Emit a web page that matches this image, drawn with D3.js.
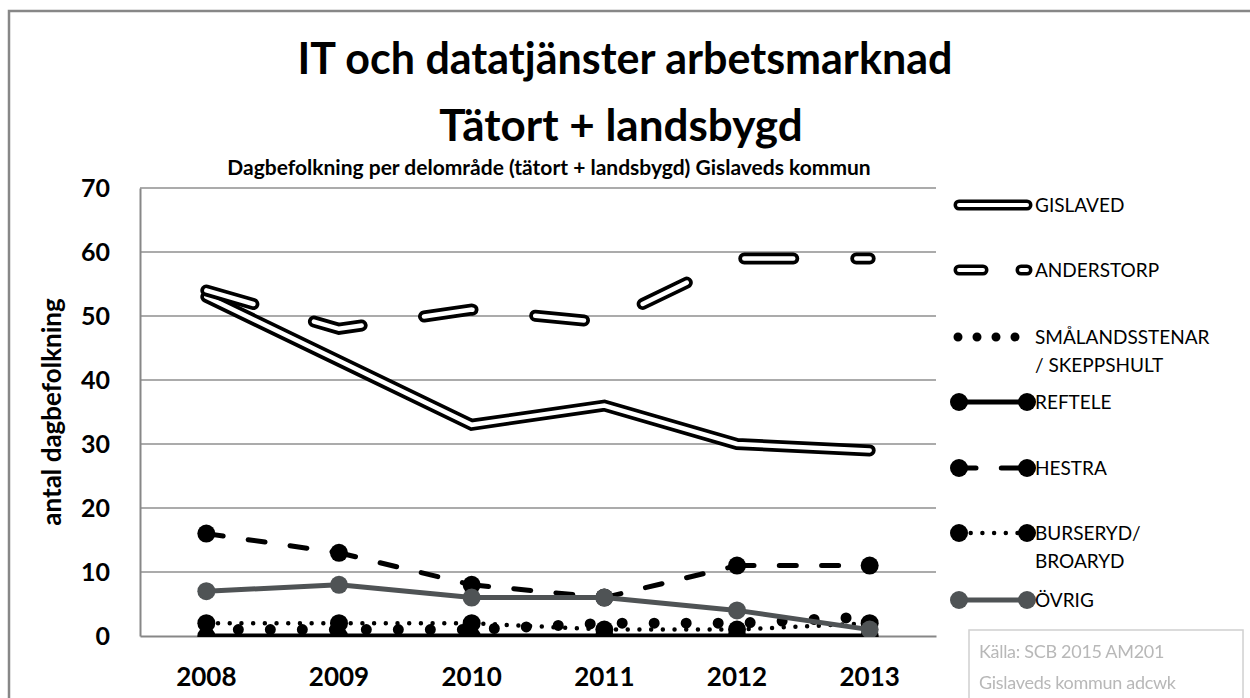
<!DOCTYPE html>
<html>
<head>
<meta charset="utf-8">
<script src="https://cdn.jsdelivr.net/npm/d3@7"></script>
<style>
  body { margin: 0; background: #fff; }
  svg { display: block; font-family: Lato, "Open Sans", sans-serif; }
</style>
</head>
<body>
<svg id="chart" width="1250" height="698"></svg>
<script>
// Categories and series values (people working in IT och datatjänster, by area)
const years = ["2008", "2009", "2010", "2011", "2012", "2013"];
const gislaved       = [53, 43, 33, 36, 30, 29];
const anderstorp     = [54, 48, 51, 49, 59, 59];
const smalandsstenar = [1, 1, 1, 2, 2, 3];
const reftele        = [0, 0, 0, 0, 0, 0];
const hestra         = [16, 13, 8, 6, 11, 11];
const burseryd       = [2, 2, 2, 1, 1, 2];
const ovrig          = [7, 8, 6, 6, 4, 1];
const yTicks = [0, 10, 20, 30, 40, 50, 60, 70];
const legendLabels = [
  ["GISLAVED"], ["ANDERSTORP"], ["SMÅLANDSSTENAR", "/ SKEPPSHULT"], ["REFTELE"],
  ["HESTRA"], ["BURSERYD/", "BROARYD"], ["ÖVRIG"]
];

const svg = d3.select("#chart");
const plot = { left: 140, right: 936, top: 188, bottom: 636 };

const x = d3.scaleBand().domain(years).range([plot.left, plot.right]);
const cx = d => x(d) + x.bandwidth() / 2;
const y = d3.scaleLinear().domain([0, 70]).range([plot.bottom, plot.top]);

// outer chart frame (left and top edges visible)
svg.append("rect").attr("x", 9).attr("y", 11).attr("width", 1300).attr("height", 800)
  .attr("fill", "none").attr("stroke", "#878787").attr("stroke-width", 2.5);

// titles
svg.append("text").attr("x", 625).attr("y", 74).attr("text-anchor", "middle")
  .attr("font-weight", 700).attr("font-size", 43).text("IT och datatjänster arbetsmarknad");
svg.append("text").attr("x", 621).attr("y", 141).attr("text-anchor", "middle")
  .attr("font-weight", 700).attr("font-size", 44).text("Tätort + landsbygd");
svg.append("text").attr("x", 549).attr("y", 175).attr("text-anchor", "middle")
  .attr("font-weight", 700).attr("font-size", 21)
  .text("Dagbefolkning per delområde (tätort + landsbygd) Gislaveds kommun");

// gridlines
svg.append("g").selectAll("line").data(yTicks.filter(t => t > 0)).join("line")
  .attr("x1", plot.left).attr("x2", plot.right)
  .attr("y1", d => y(d)).attr("y2", d => y(d))
  .attr("stroke", "#8f8f8f").attr("stroke-width", 1.6);

// y axis
const yAxis = svg.append("g").attr("transform", `translate(${plot.left},0)`)
  .call(d3.axisLeft(y).tickValues(yTicks).tickSize(0).tickPadding(30));
yAxis.select(".domain").attr("stroke", "#878787").attr("stroke-width", 2);
yAxis.selectAll("text").attr("font-family", "Lato, sans-serif").attr("font-size", 25)
  .attr("font-weight", 700).attr("fill", "#000");

// x axis
const xAxis = svg.append("g").attr("transform", `translate(0,${plot.bottom})`)
  .call(d3.axisBottom(x).tickSize(0).tickPadding(32));
xAxis.select(".domain").attr("stroke", "#878787").attr("stroke-width", 2);
xAxis.selectAll("text").attr("font-family", "Lato, sans-serif").attr("font-size", 26)
  .attr("font-weight", 700).attr("fill", "#000");

// y axis title
svg.append("text").attr("transform", `translate(61,${(plot.top + plot.bottom) / 2}) rotate(-90)`)
  .attr("text-anchor", "middle").attr("font-weight", 700).attr("font-size", 26)
  .text("antal dagbefolkning");

// series
svg.append("clipPath").attr("id", "plotClip").append("rect")
  .attr("x", 0).attr("y", 0).attr("width", 1250).attr("height", plot.bottom + 1);
const g = svg.append("g").attr("clip-path", "url(#plotClip)");

const line = d3.line().x((d, i) => cx(years[i])).y(d => y(d));
const GRAY = "#4f5355";

function compound(values, dash) {
  const p1 = g.append("path").datum(values).attr("d", line).attr("fill", "none")
    .attr("stroke", "#000").attr("stroke-width", 12)
    .attr("stroke-linecap", "round").attr("stroke-linejoin", "miter");
  const p2 = g.append("path").datum(values).attr("d", line).attr("fill", "none")
    .attr("stroke", "#fff").attr("stroke-width", 4.5)
    .attr("stroke-linecap", "round").attr("stroke-linejoin", "miter");
  if (dash) { p1.attr("stroke-dasharray", dash); p2.attr("stroke-dasharray", dash); }
}

// segment-wise path so the dash pattern restarts at every point
function segmented(values, color, width, dash) {
  const pairs = d3.range(values.length - 1).map(i => [i, i + 1]);
  g.append("g").selectAll("path").data(pairs).join("path")
    .attr("d", p => d3.line()(p.map(i => [cx(years[i]), y(values[i])])))
    .attr("fill", "none").attr("stroke", color).attr("stroke-width", width)
    .attr("stroke-linecap", "round").attr("stroke-dasharray", dash);
}

function markers(values, color) {
  g.append("g").selectAll("circle").data(values).join("circle")
    .attr("cx", (d, i) => cx(years[i])).attr("cy", d => y(d)).attr("r", 9)
    .attr("fill", color);
}

compound(gislaved, null);
compound(anderstorp, "49,63");

g.append("path").datum(smalandsstenar).attr("d", line).attr("fill", "none")
  .attr("stroke", "#000").attr("stroke-width", 11)
  .attr("stroke-linecap", "round").attr("stroke-dasharray", "0,32");

g.append("path").datum(reftele).attr("d", line).attr("fill", "none")
  .attr("stroke", "#000").attr("stroke-width", 5);
markers(reftele, "#000");

segmented(hestra, "#000", 5, "17,25.3");
markers(hestra, "#000");

segmented(burseryd, "#000", 4.5, "0,11.7");
markers(burseryd, "#000");

g.append("path").datum(ovrig).attr("d", line).attr("fill", "none")
  .attr("stroke", GRAY).attr("stroke-width", 5).attr("stroke-linejoin", "round");
markers(ovrig, GRAY);

// legend
const lx0 = 959, lx1 = 1027, tx = 1035;
const rowY = [205, 270, 337, 402, 468, 533, 600];
const lg = svg.append("g");
const seg = yy => d3.line()([[lx0, yy], [lx1, yy]]);

// GISLAVED
lg.append("path").attr("d", seg(rowY[0])).attr("stroke", "#000").attr("stroke-width", 11).attr("stroke-linecap", "round");
lg.append("path").attr("d", seg(rowY[0])).attr("stroke", "#fff").attr("stroke-width", 4).attr("stroke-linecap", "round");
// ANDERSTORP
lg.append("path").attr("d", seg(rowY[1])).attr("stroke", "#000").attr("stroke-width", 11).attr("stroke-linecap", "round").attr("stroke-dasharray", "24,38");
lg.append("path").attr("d", seg(rowY[1])).attr("stroke", "#fff").attr("stroke-width", 4).attr("stroke-linecap", "round").attr("stroke-dasharray", "24,38");
// SMÅLANDSSTENAR
lg.append("path").attr("d", d3.line()([[lx0 - 1, rowY[2]], [lx1, rowY[2]]])).attr("stroke", "#000").attr("stroke-width", 9)
  .attr("stroke-linecap", "round").attr("stroke-dasharray", "0,19");
// REFTELE
lg.append("path").attr("d", seg(rowY[3])).attr("stroke", "#000").attr("stroke-width", 5);
lg.selectAll(null).data([lx0, lx1]).join("circle").attr("cx", d => d).attr("cy", rowY[3]).attr("r", 9).attr("fill", "#000");
// HESTRA
lg.append("path").attr("d", seg(rowY[4])).attr("stroke", "#000").attr("stroke-width", 5)
  .attr("stroke-linecap", "round").attr("stroke-dasharray", "17,25.3");
lg.selectAll(null).data([lx0, lx1]).join("circle").attr("cx", d => d).attr("cy", rowY[4]).attr("r", 9).attr("fill", "#000");
// BURSERYD
lg.append("path").attr("d", seg(rowY[5])).attr("stroke", "#000").attr("stroke-width", 4.5)
  .attr("stroke-linecap", "round").attr("stroke-dasharray", "0,11.7");
lg.selectAll(null).data([lx0, lx1]).join("circle").attr("cx", d => d).attr("cy", rowY[5]).attr("r", 9).attr("fill", "#000");
// ÖVRIG
lg.append("path").attr("d", seg(rowY[6])).attr("stroke", GRAY).attr("stroke-width", 5);
lg.selectAll(null).data([lx0, lx1]).join("circle").attr("cx", d => d).attr("cy", rowY[6]).attr("r", 9).attr("fill", GRAY);

legendLabels.forEach((lines, i) => {
  const t = lg.append("text").attr("x", tx).attr("y", rowY[i] + 7).attr("font-size", 19);
  lines.forEach((s, j) => t.append("tspan").attr("x", tx).attr("dy", j === 0 ? 0 : 28).text(s));
});

// source note (soft, light grey)
svg.append("filter").attr("id", "soft").append("feGaussianBlur").attr("stdDeviation", 0.6);
const src = svg.append("g");
src.append("rect").attr("x", 969).attr("y", 630).attr("width", 274).attr("height", 90)
  .attr("fill", "#fff").attr("stroke", "#d0d0d0").attr("stroke-width", 1.5);
const srcText = src.append("g").attr("filter", "url(#soft)")
  .attr("font-size", 18).attr("fill", "#b8b8b8").attr("letter-spacing", -0.3);
srcText.append("text").attr("x", 979).attr("y", 658).text("Källa: SCB 2015 AM201");
srcText.append("text").attr("x", 979).attr("y", 689).text("Gislaveds kommun adcwk");
</script>
</body>
</html>
